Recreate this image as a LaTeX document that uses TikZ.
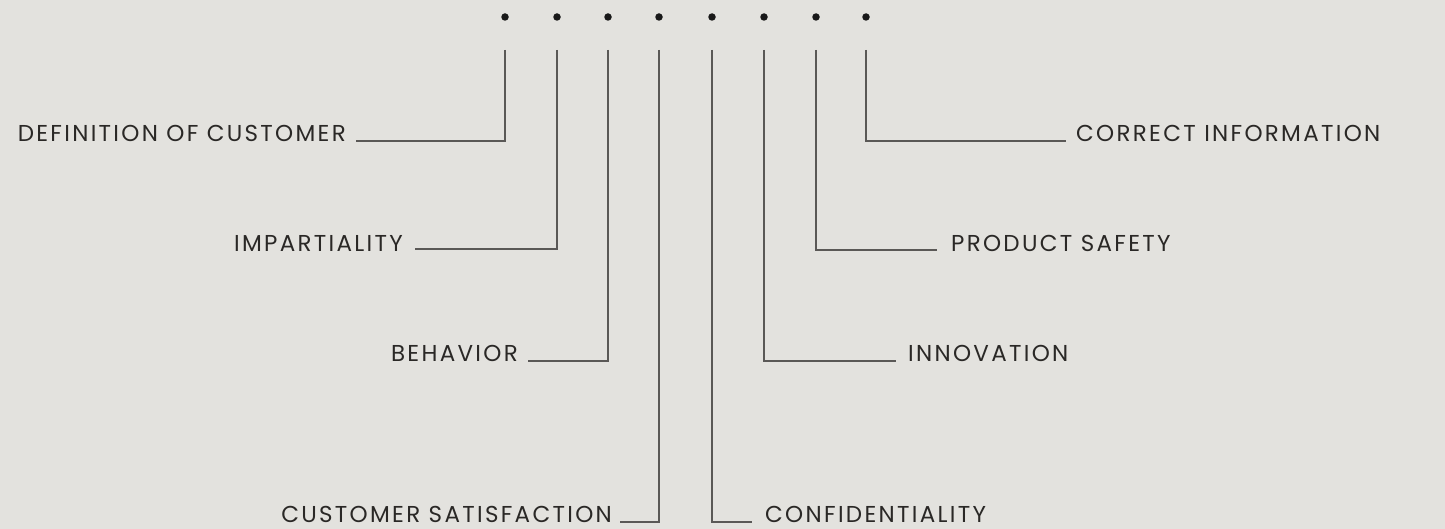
\documentclass[tikz,border=0pt]{standalone}
\usepackage{fontspec}
\newfontfamily\labfont[LetterSpace=10]{Poppins}
\definecolor{bgc}{HTML}{E3E2DE}
\definecolor{linec}{HTML}{5A5856}
\definecolor{txtc}{HTML}{2A2826}
\begin{document}
\begin{tikzpicture}[x=1pt,y=-1pt,
  conn/.style={draw=linec,line width=1.3pt},
  dotnode/.style={circle,fill=black!90,inner sep=0pt,minimum size=7.5pt},
  lab/.style={font=\labfont\fontsize{23}{27}\selectfont,text=txtc,inner sep=0pt}]
\fill[bgc] (0,0) rectangle (1445,529);
\useasboundingbox (0,0) rectangle (1445,529);
% dots
\foreach \i/\x in {1/505,2/557,3/608,4/659,5/712,6/764,7/816,8/866}{
  \node[dotnode] (d\i) at (\x,17) {};
  \coordinate (t\i) at (\x,50);
}
% end points of horizontal legs
\coordinate (e1) at (356,141);
\coordinate (e2) at (415,249);
\coordinate (e3) at (528,361);
\coordinate (e4) at (620,522);
\coordinate (e5) at (752,522);
\coordinate (e6) at (896,361);
\coordinate (e7) at (937,250);
\coordinate (e8) at (1066,141);
% connectors
\foreach \i in {1,...,8}{\draw[conn] (t\i) |- (e\i);}
% labels
\node[lab,anchor=base east] (l1) at ([xshift=-10pt,yshift=-1pt]e1) {DEFINITION OF CUSTOMER};
\node[lab,anchor=base east] (l2) at ([xshift=-12pt,yshift=-3pt]e2) {IMPARTIALITY};
\node[lab,anchor=base east] (l3) at ([xshift=-10pt,yshift=0pt]e3) {BEHAVIOR};
\node[lab,anchor=base east] (l4) at ([xshift=-8pt,yshift=0pt]e4) {CUSTOMER SATISFACTION};
\node[lab,anchor=base west] (l5) at ([xshift=13pt,yshift=0pt]e5) {CONFIDENTIALITY};
\node[lab,anchor=base west] (l6) at ([xshift=12pt,yshift=0pt]e6) {INNOVATION};
\node[lab,anchor=base west] (l7) at ([xshift=14pt,yshift=-2pt]e7) {PRODUCT SAFETY};
\node[lab,anchor=base west] (l8) at ([xshift=10pt,yshift=-1pt]e8) {CORRECT INFORMATION};
\end{tikzpicture}
\end{document}
